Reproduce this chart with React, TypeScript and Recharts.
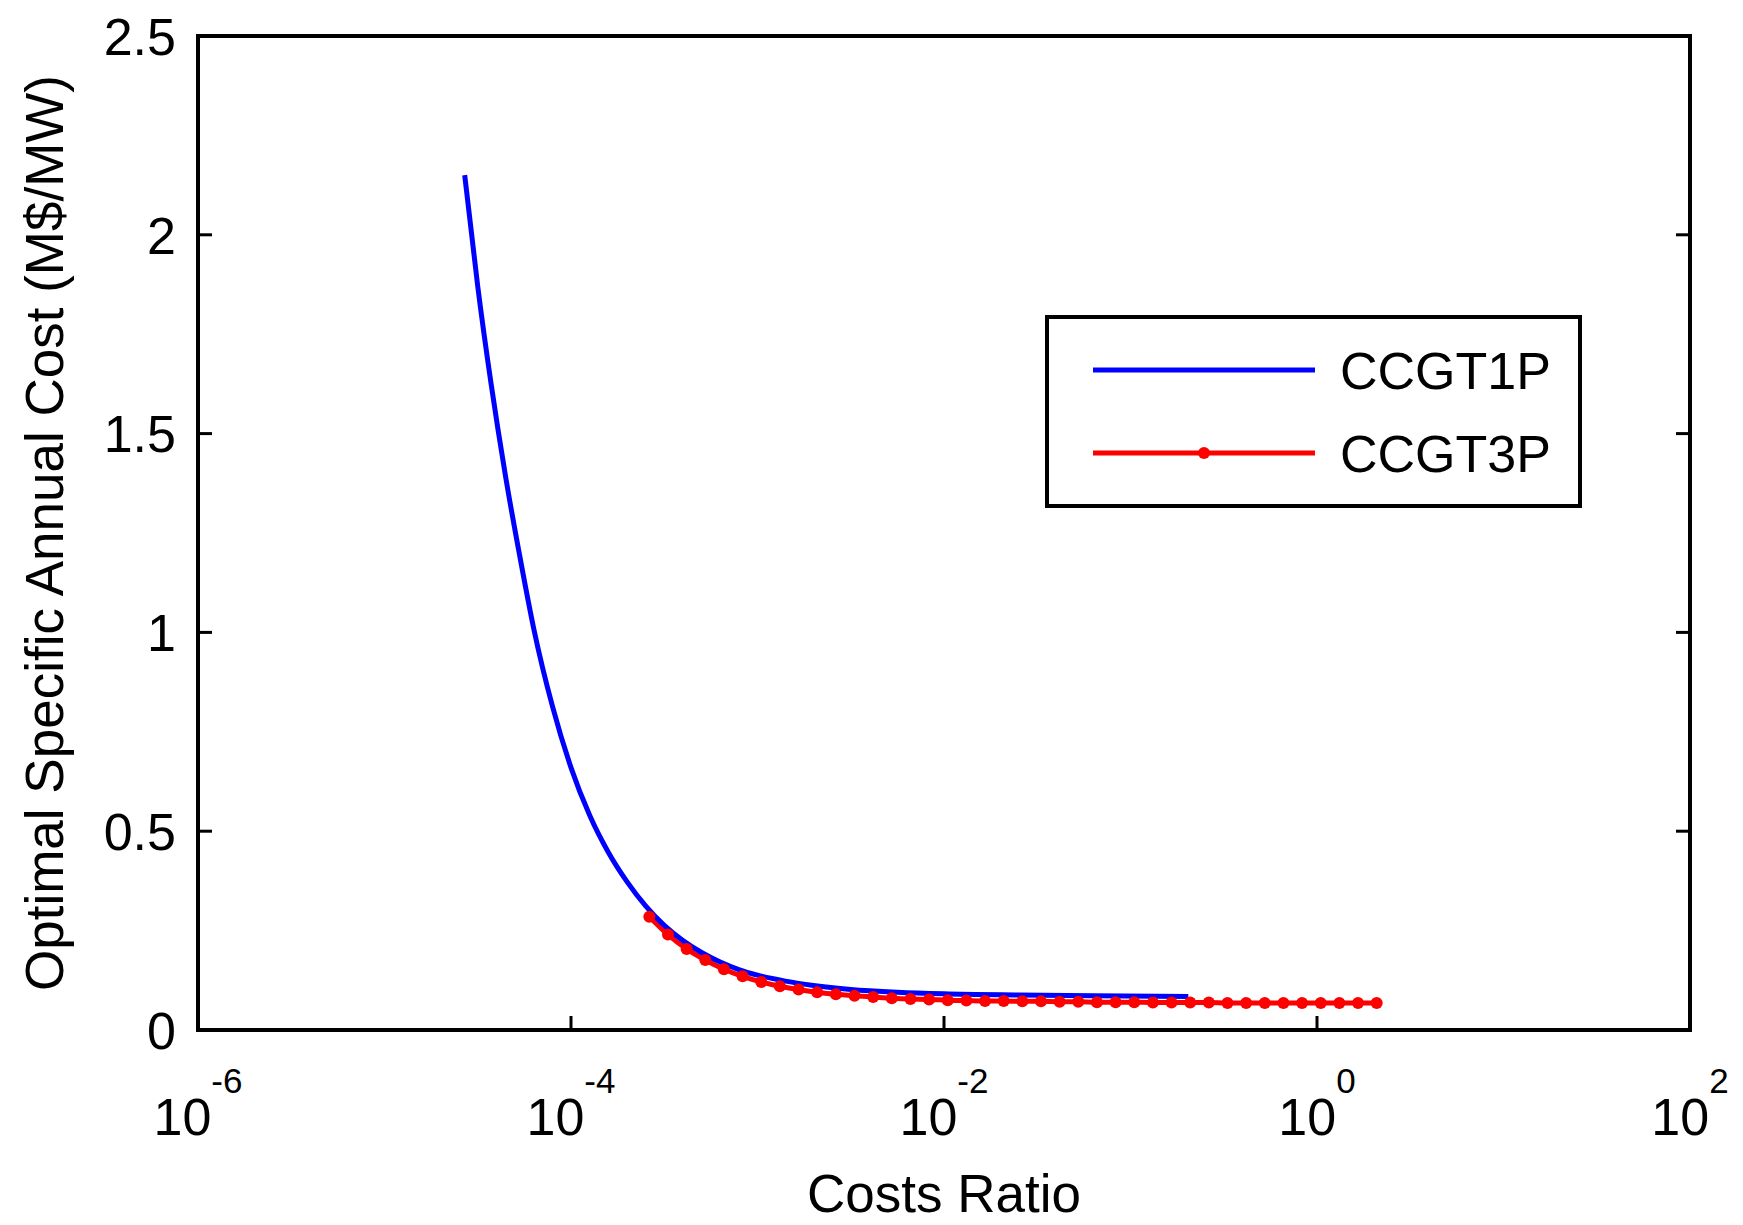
import { LineChart, Line, XAxis, YAxis, Legend } from 'recharts'

const FONT = '"Liberation Sans", Arial, Helvetica, sans-serif'

// x axis: costs ratio on a log scale, one labelled tick every two decades
const ratioTicks = [1e-6, 1e-4, 1e-2, 1, 1e2]
const ratioTickExponents = ['-6', '-4', '-2', '0', '2']
const costTicks = [0, 0.5, 1, 1.5, 2, 2.5]
const costTickLabels = ['0', '0.5', '1', '1.5', '2', '2.5']

// CCGT1P: decade exponent of the costs ratio and optimal specific annual cost (M$/MW)
const ccgt1pExponent = [
  -4.57, -4.5, -4.43, -4.35, -4.27, -4.2, -4.1, -4.0, -3.9, -3.8, -3.7, -3.6, -3.5,
  -3.4, -3.3, -3.2, -3.1, -3.0, -2.85, -2.7, -2.5, -2.25, -2.0, -1.6, -1.2, -0.69,
]
const ccgt1pCost = [
  2.15, 1.87, 1.63, 1.39, 1.18, 1.01, 0.815, 0.66, 0.54, 0.447, 0.373, 0.312, 0.263,
  0.225, 0.195, 0.171, 0.152, 0.138, 0.123, 0.112, 0.102, 0.095, 0.091, 0.088, 0.086, 0.084,
]

// CCGT3P: sampled every tenth of a decade, drawn with point markers
const ccgt3pExponent = [
  -3.58, -3.48, -3.38, -3.28, -3.18, -3.08, -2.98, -2.88, -2.78, -2.68,
  -2.58, -2.48, -2.38, -2.28, -2.18, -2.08, -1.98, -1.88, -1.78, -1.68,
  -1.58, -1.48, -1.38, -1.28, -1.18, -1.08, -0.98, -0.88, -0.78, -0.68,
  -0.58, -0.48, -0.38, -0.28, -0.18, -0.08, 0.02, 0.12, 0.22, 0.32,
]
const ccgt3pCost = [
  0.285, 0.24, 0.204, 0.176, 0.153, 0.135, 0.121, 0.11, 0.102, 0.095,
  0.09, 0.086, 0.083, 0.08, 0.078, 0.077, 0.075, 0.074, 0.073, 0.073,
  0.072, 0.072, 0.071, 0.071, 0.07, 0.07, 0.07, 0.069, 0.069, 0.069,
  0.069, 0.068, 0.068, 0.068, 0.068, 0.068, 0.068, 0.068, 0.068, 0.068,
]

const toPoints = (exps: number[], costs: number[]) =>
  exps.map((e, i) => ({ ratio: Math.pow(10, e), cost: costs[i] }))

const ccgt1p = toPoints(ccgt1pExponent, ccgt1pCost)
const ccgt3p = toPoints(ccgt3pExponent, ccgt3pCost)

const legendItems = [
  { name: 'CCGT1P', color: '#0000ff', marker: false },
  { name: 'CCGT3P', color: '#ff0000', marker: true },
]

const TICK_LEN = 14
const AXIS = { stroke: '#000', strokeWidth: 4, strokeLinecap: 'square' as const }

function RatioTick(props: any) {
  const { x, y, payload } = props
  const exp = ratioTickExponents[ratioTicks.indexOf(payload.value)]
  return (
    <g>
      <line x1={x} y1={y} x2={x} y2={y - TICK_LEN} stroke="#000" strokeWidth={3} />
      <text x={x} y={y + 105} textAnchor="middle" fontSize={52} fontFamily={FONT} fill="#000">
        10
        <tspan dy={-42} fontSize={35}>{exp}</tspan>
      </text>
    </g>
  )
}

function TopTick(props: any) {
  const { x, y } = props
  return <line x1={x} y1={y} x2={x} y2={y + TICK_LEN} stroke="#000" strokeWidth={3} />
}

function CostTick(props: any) {
  const { x, y, payload } = props
  const label = costTickLabels[costTicks.indexOf(payload.value)]
  return (
    <g>
      <line x1={x} y1={y} x2={x + TICK_LEN} y2={y} stroke="#000" strokeWidth={3} />
      <text x={x - 22} y={y} dy="0.36em" textAnchor="end" fontSize={52} fontFamily={FONT} fill="#000">
        {label}
      </text>
    </g>
  )
}

function RightTick(props: any) {
  const { x, y } = props
  return <line x1={x} y1={y} x2={x - TICK_LEN} y2={y} stroke="#000" strokeWidth={3} />
}

function LegendBox() {
  const rows = [55, 138]
  return (
    <svg width={537} height={193} style={{ display: 'block' }}>
      <rect x={2} y={2} width={533} height={189} fill="#fff" stroke="#000" strokeWidth={4} />
      {legendItems.map((item, i) => (
        <g key={item.name}>
          <line x1={48} x2={270} y1={rows[i]} y2={rows[i]} stroke={item.color} strokeWidth={5} />
          {item.marker && <circle cx={159} cy={rows[i]} r={6} fill={item.color} />}
          <text x={295} y={rows[i]} dy="0.36em" fontSize={52} fontFamily={FONT} fill="#000">
            {item.name}
          </text>
        </g>
      ))}
    </svg>
  )
}

export default function App() {
  return (
    <div style={{ position: 'absolute', left: 0, top: 0, background: '#fff' }}>
      <LineChart width={1743} height={1225} margin={{ top: 35, right: 52, bottom: 0, left: 0 }}>
        <XAxis
          xAxisId="bottom"
          dataKey="ratio"
          type="number"
          scale="log"
          domain={[1e-6, 1e2]}
          ticks={ratioTicks}
          interval={0}
          allowDataOverflow
          height={195}
          tickSize={0}
          tickMargin={0}
          tickLine={false}
          axisLine={AXIS}
          tick={<RatioTick />}
          label={{
            value: 'Costs Ratio',
            content: (p: any) => (
              <text
                x={p.viewBox.x + p.viewBox.width / 2}
                y={p.viewBox.y + 182}
                textAnchor="middle"
                fontSize={53}
                fontFamily={FONT}
                fill="#000"
              >
                Costs Ratio
              </text>
            ),
          }}
        />
        {/* mirrored top axis closes the box, ticks only */}
        <XAxis
          xAxisId="top"
          orientation="top"
          type="number"
          scale="log"
          domain={[1e-6, 1e2]}
          ticks={ratioTicks}
          interval={0}
          allowDataOverflow
          height={1}
          tickSize={0}
          tickMargin={0}
          tickLine={false}
          axisLine={AXIS}
          tick={<TopTick />}
        />
        <YAxis
          yAxisId="left"
          dataKey="cost"
          type="number"
          domain={[0, 2.5]}
          ticks={costTicks}
          interval={0}
          allowDataOverflow
          width={198}
          tickSize={0}
          tickMargin={0}
          tickLine={false}
          axisLine={AXIS}
          tick={<CostTick />}
          label={{
            value: 'Optimal Specific Annual Cost (M$/MW)',
            content: (p: any) => (
              <text
                transform={`translate(44, ${p.viewBox.y + p.viewBox.height / 2}) rotate(-90)`}
                textAnchor="middle"
                dy="0.36em"
                fontSize={53}
                fontFamily={FONT}
                fill="#000"
              >
                Optimal Specific Annual Cost (M$/MW)
              </text>
            ),
          }}
        />
        <YAxis
          yAxisId="right"
          orientation="right"
          type="number"
          domain={[0, 2.5]}
          ticks={costTicks}
          interval={0}
          allowDataOverflow
          width={1}
          tickSize={0}
          tickMargin={0}
          tickLine={false}
          axisLine={AXIS}
          tick={<RightTick />}
        />
        <Line
          xAxisId="bottom"
          yAxisId="left"
          data={ccgt3p}
          dataKey="cost"
          name="CCGT3P"
          type="monotone"
          stroke="#ff0000"
          strokeWidth={5}
          dot={{ r: 6, fill: '#ff0000', stroke: '#ff0000', strokeWidth: 0 }}
          activeDot={false}
          isAnimationActive={false}
        />
        <Line
          xAxisId="bottom"
          yAxisId="left"
          data={ccgt1p}
          dataKey="cost"
          name="CCGT1P"
          type="monotone"
          stroke="#0000ff"
          strokeWidth={5}
          dot={false}
          activeDot={false}
          isAnimationActive={false}
        />
        <Legend
          layout="horizontal"
          verticalAlign="middle"
          align="center"
          wrapperStyle={{ left: 1045, top: 315, width: 537, height: 193 }}
          content={() => <LegendBox />}
        />
      </LineChart>
    </div>
  )
}
